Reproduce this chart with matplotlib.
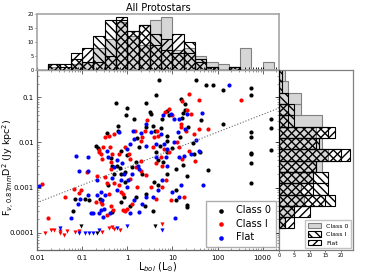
import matplotlib.pyplot as plt
import numpy as np

# detected sources: log10 Lbol (Lsun), log10 F D^2 (Jy kpc^2)
c0_logL = [0.70, 1.52, 1.74, 1.90, 2.13, 2.74, 2.74, 0.64, 0.42, -0.24, -0.01, -0.02, 0.50, 0.52,
           0.15, -0.21, -0.21, 0.56, 0.78, 0.87, 0.93, 1.21, 1.24, 1.28, 1.19, 1.28, 1.63, 2.13,
           3.19, 3.19, 2.74, 2.74, 3.19, 2.74, 2.74, 2.74, 2.74, 1.79, 1.61, 1.46, 1.48, 1.34,
           1.16, 0.89, 0.87, 0.72, 0.75, 0.61, 0.41, 0.21, 0.26, -0.01, -0.15, -0.44, -0.69,
           -0.64, -0.37, -0.33, -0.30, -0.22, -0.17, -0.15, -0.04, -0.04, 0.10, 0.19, 0.33,
           0.63, 0.69, 0.79, 0.89, 1.00, 1.24, 1.07, 0.89, 0.59, 0.67, 0.41, 0.19, 0.39, 0.07,
           -0.13, -0.07, -0.43, -0.33, -0.61, -0.85, -0.94, -1.15, -1.21, 0.56, 1.33, 1.09,
           1.07, 1.33, 1.33]
c0_logF = [-0.61, -0.61, -0.72, -0.74, -0.83, -0.79, -0.95, -0.96, -1.13, -1.12, -1.24, -1.40,
           -1.32, -1.37, -1.48, -1.63, -1.75, -1.63, -1.48, -1.31, -1.40, -1.46, -1.35, -1.29,
           -1.04, -1.15, -1.50, -1.59, -1.48, -1.68, -1.76, -1.88, -2.16, -2.23, -2.26, -2.46,
           -2.90, -2.60, -2.21, -2.01, -2.25, -1.66, -1.88, -1.85, -1.96, -2.07, -1.69, -1.74,
           -1.66, -1.90, -2.10, -2.27, -2.18, -1.79, -2.08, -2.13, -2.34, -2.53, -2.69, -2.51,
           -2.57, -2.69, -2.65, -2.87, -2.54, -2.43, -2.69, -2.21, -2.38, -2.43, -2.21, -2.13,
           -2.49, -2.58, -2.69, -2.87, -2.95, -3.13, -3.21, -3.41, -3.41, -3.32, -3.21, -2.95,
           -3.54, -3.26, -3.28, -3.26, -3.26, -3.51, -3.52, -2.73, -3.06, -3.28, -3.39, -3.43]

c1_logL = [-1.89, -1.37, -1.76, -0.89, -1.19, -1.02, -0.70, -1.07, -0.58, -0.67, -0.63, -0.59,
           -0.56, -0.63, -0.50, -0.41, -0.53, -0.39, -0.33, -0.36, -0.36, -0.50, -0.46, -0.30,
           -0.41, -0.56, -0.36, -0.31, -0.45, -0.30, -0.19, -0.19, -0.15, -0.10, 0.07, 0.05,
           0.04, -0.05, 0.17, 0.30, 0.33, 0.39, 0.44, 0.59, 0.65, 0.67, 0.83, 0.93, 0.98, 1.19,
           1.33, 1.30, 1.19, 1.10, 0.81, 0.57, 0.63, 0.74, 0.93, 1.15, 1.21, 1.37, 1.50, 1.48,
           1.59, 1.41, 1.59, 1.37, 1.21, 2.53, 0.85, 0.76, 0.63, 0.52, 0.41, 0.31, 0.30, 0.20,
           0.22, 0.11, 0.00, -0.09, -0.04, 0.96, 1.26, 0.76, 1.78]
c1_logF = [-2.91, -3.21, -3.68, -2.65, -3.02, -3.04, -3.32, -3.12, -3.32, -2.75, -2.21, -2.25,
           -2.36, -2.16, -1.88, -1.85, -2.10, -2.10, -2.25, -2.43, -2.59, -2.76, -2.90, -2.90,
           -3.13, -3.37, -3.41, -3.50, -3.60, -1.81, -2.26, -2.95, -3.10, -3.13, -2.80, -2.36,
           -2.25, -2.10, -1.74, -1.96, -1.88, -1.74, -1.51, -1.88, -1.74, -1.85, -1.33, -1.26,
           -1.40, -1.60, -1.29, -1.75, -1.66, -1.99, -2.14, -2.10, -2.46, -2.32, -2.21, -2.10,
           -2.36, -2.18, -2.40, -1.81, -1.70, -1.38, -1.07, -0.93, -1.09, -1.07, -2.84, -2.99,
           -3.26, -2.99, -2.71, -2.62, -2.40, -2.54, -2.99, -3.35, -3.46, -3.50, -3.51, -3.28,
           -3.21, -2.53, -1.70]

fl_logL = [-1.96, -1.24, -1.13, -1.07, -0.87, -0.87, -1.10, -1.04, -0.87, -0.67, -0.59, -0.63,
           -0.76, -0.81, -0.66, -0.59, -0.44, -0.42, -0.30, -0.33, -0.50, -0.57, -0.51, -0.53,
           -0.39, -0.19, -0.22, -0.11, -0.07, -0.15, -0.22, 0.00, 0.02, 0.11, 0.00, 0.07, 0.13,
           0.16, 0.30, 0.41, 0.41, 0.52, 0.74, 0.79, 0.96, 1.04, 1.15, 1.33, 1.28, 1.13, 1.03,
           0.81, 0.63, 0.64, 0.85, 0.87, 1.15, 1.26, 1.41, 1.52, 1.65, 2.26, 1.59, 1.67, 1.19,
           0.78, 0.67, 0.56, 0.41, 0.24, 0.26, 0.15, 0.26, 0.33, 0.06, 1.06, 1.00, 1.15, 0.89]
fl_logF = [-2.96, -3.68, -2.29, -2.62, -2.31, -2.62, -3.37, -3.24, -3.15, -3.15, -3.50, -3.57,
           -3.57, -3.56, -2.84, -3.09, -2.18, -2.32, -2.54, -2.78, -3.17, -3.28, -3.46, -3.65,
           -3.57, -1.77, -2.38, -2.46, -2.69, -2.84, -3.04, -2.99, -2.84, -2.69, -2.14, -2.03,
           -1.74, -1.92, -1.79, -2.07, -1.59, -1.77, -1.81, -1.40, -1.37, -1.48, -1.48, -1.37,
           -1.71, -1.77, -1.99, -2.03, -2.03, -2.32, -2.32, -2.14, -2.32, -2.29, -2.26, -1.94,
           -1.35, -0.74, -2.18, -2.95, -2.93, -2.84, -3.06, -3.21, -3.21, -2.53, -2.58, -3.28,
           -3.54, -3.35, -3.57, -3.66, -3.10, -3.21, -2.51]

# upper limits
c0_lim_logL = [0.61, -1.02, -0.67]
c0_lim_logF = [-3.85, -3.85, -4.01]
c1_lim_logL = [-1.83, -1.70, -1.63, -1.50, -1.48, -1.41, -1.33, -1.15, -1.07, -0.56, -0.41,
               -0.33, -0.30, -0.17, 0.78]
c1_lim_logF = [-4.00, -3.94, -3.93, -3.96, -4.01, -4.05, -3.96, -3.98, -3.96, -3.98, -3.89,
               -3.87, -3.91, -3.94, -3.81]
fl_lim_logL = [-1.50, -1.07, -0.94, -0.85, -0.76, -0.63, -0.22, -0.01, 0.78]
fl_lim_logF = [-3.89, -4.01, -4.01, -4.01, -4.01, -3.94, -3.89, -3.85, -3.93]

# fit line: log F = slope * log L + icpt
slope, icpt = 0.39, -2.55

# histogram of Lbol (all protostars), 0.25 dex bins
lbol_edges = np.arange(-1.75, 3.26, 0.25)
lbol_c0 = [1, 0, 2, 3, 8, 11, 17, 12, 9, 18, 19, 7, 8, 5, 3, 2, 1, 8, 0, 3]
lbol_c1 = [2, 2, 4, 3, 12, 18, 18, 14, 16, 13, 7, 6, 10, 4, 1, 0, 1, 0, 0, 0]
lbol_fl = [2, 1, 6, 8, 3, 5, 19, 14, 16, 9, 11, 13, 6, 3, 1, 0, 1, 0, 0, 0]

# histogram of flux, 0.25 dex bins (bottom to top)
flux_edges = np.arange(-3.9, -0.39, 0.25)
flux_c0 = [2, 5, 8, 7, 11, 14, 16, 14, 12, 14, 7, 7, 3, 2]
flux_c1 = [2, 5, 18, 16, 16, 12, 20, 13, 16, 5, 5, 3, 1, 1]
flux_fl = [5, 10, 15, 11, 11, 12, 23, 12, 18, 3, 3, 0, 0, 0]

plt.rcParams['hatch.linewidth'] = 1.0

fig = plt.figure(figsize=(3.72, 2.79), dpi=100)
ax = fig.add_axes([0.0995, 0.104, 0.6505, 0.645])
axt = fig.add_axes([0.0995, 0.749, 0.6505, 0.2007])
axr = fig.add_axes([0.75, 0.104, 0.199, 0.645])

ms = 9
for lx, ly, c, lab in [(c0_logL, c0_logF, 'k', 'Class 0'),
                       (c1_logL, c1_logF, 'r', 'Class I'),
                       (fl_logL, fl_logF, 'b', 'Flat')]:
    ax.scatter(10**np.array(lx), 10**np.array(ly), s=ms, c=c, lw=0, label=lab)
for lx, ly, c in [(c0_lim_logL, c0_lim_logF, 'k'),
                  (c1_lim_logL, c1_lim_logF, 'r'),
                  (fl_lim_logL, fl_lim_logF, 'b')]:
    ax.scatter(10**np.array(lx), 10**np.array(ly), s=9, c=c, marker='v', lw=0)

xfit = np.array([-2.0, 3.36])
ax.plot(10**xfit, 10**(slope * xfit + icpt), ':', color='0.4', lw=0.8)

xlim = (0.01, 2300)
ylim = (4.2e-5, 0.4)
ax.set_xscale('log')
ax.set_yscale('log')
ax.set_xlim(*xlim)
ax.set_ylim(*ylim)
ax.set_xticks([0.01, 0.1, 1, 10, 100, 1000])
ax.set_xticklabels(['0.01', '0.1', '1', '10', '100', '1000'])
ax.set_yticks([1e-4, 1e-3, 1e-2, 1e-1])
ax.set_yticklabels(['0.0001', '0.001', '0.01', '0.1'])
ax.tick_params(which='both', direction='in', top=True, right=True, labelsize=5, color='0.3')
ax.tick_params(axis='y', pad=2)
ax.tick_params(which='major', length=3, width=0.6)
ax.tick_params(which='minor', length=1.5, width=0.4)
for s in ax.spines.values():
    s.set_color('0.4')
    s.set_linewidth(0.9)
ax.set_xlabel(r'L$_{bol}$ (L$_{\odot}$)', fontsize=7, labelpad=0)
ax.set_ylabel(r'F$_{\nu,\,0.87mm}$D$^2$ (Jy kpc$^2$)', fontsize=6.8)
ax.yaxis.set_label_coords(-0.088, 0.46)
ax.legend(loc='lower right', fontsize=7, markerscale=1.1, handletextpad=0.6,
          labelspacing=0.35, borderpad=0.5, fancybox=False, edgecolor='0.6',
          borderaxespad=0.3, scatterpoints=1)


def hist_bars(a, edges, counts, horiz, **kw):
    e = 10**edges
    if horiz:
        return a.barh(e[:-1], counts, height=np.diff(e), align='edge', **kw)
    return a.bar(e[:-1], counts, width=np.diff(e), align='edge', **kw)


styles = [dict(facecolor='0.84', edgecolor='0.5', lw=0.8, zorder=1, label='Class 0'),
          dict(fill=False, hatch='\\\\\\\\', edgecolor='k', lw=0.8, zorder=2, label='Class I'),
          dict(fill=False, hatch='////', edgecolor='k', lw=0.8, zorder=3, label='Flat')]

# top histogram
for counts, st in zip([lbol_c0, lbol_c1, lbol_fl], styles):
    hist_bars(axt, lbol_edges, counts, False, **st)
axt.set_xscale('log')
axt.set_xlim(*xlim)
axt.set_ylim(0, 20)
axt.set_yticks([0, 5, 10, 15, 20])
axt.tick_params(axis='y', labelsize=3.5, length=1.5, width=0.4, pad=1)
axt.tick_params(axis='x', which='both', labelbottom=False, direction='in', length=2)
for s in axt.spines.values():
    s.set_color('0.65')
    s.set_linewidth(1.2)
axt.set_title('All Protostars', fontsize=7, pad=2)

# right histogram
for counts, st in zip([flux_c0, flux_c1, flux_fl], styles):
    hist_bars(axr, flux_edges, counts, True, **st)
axr.set_yscale('log')
axr.set_ylim(*ylim)
axr.set_xlim(0, 24)
axr.set_xticks([0, 5, 10, 15, 20])
axr.tick_params(axis='x', labelsize=3.5, length=1.5, width=0.4, pad=1)
axr.tick_params(axis='y', which='both', labelleft=False, length=2, width=0.4)
axr.tick_params(axis='y', which='minor', length=0)
for s in axr.spines.values():
    s.set_color('0.5')
    s.set_linewidth(0.9)
axr.legend(loc='lower right', fontsize=4.5, fancybox=False, edgecolor='0.7',
           handlelength=2.2, handleheight=1.0, labelspacing=0.4, borderaxespad=0.3)

fig.savefig('out.png', dpi=100)
